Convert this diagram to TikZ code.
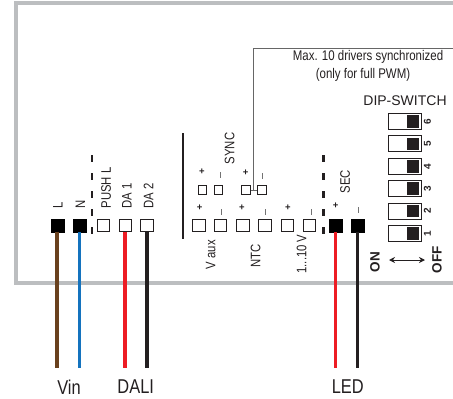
\documentclass[tikz,border=0pt]{standalone}
\usepackage{fontspec}
\setmainfont{Liberation Sans}
\newfontfamily\narrowfont[FakeStretch=0.82]{Liberation Sans}
\usepackage{tikz}
\usetikzlibrary{arrows.meta, positioning}

\definecolor{casegray}{RGB}{188,190,192}
\definecolor{wirebrown}{RGB}{105,65,30}
\definecolor{wireblue}{RGB}{20,115,190}
\definecolor{wirered}{RGB}{237,28,36}
\definecolor{wireblack}{RGB}{35,31,32}

\tikzset{
    blackpin/.style={rectangle, draw=black, fill=black, inner sep=0pt, minimum size=12.5pt},
    openpin/.style={rectangle, draw=wireblack, line width=0.9pt, fill=white, inner sep=0pt, minimum size=12.5pt},
    smallpin/.style={rectangle, draw=wireblack, line width=0.8pt, fill=white, inner sep=0pt, minimum size=8.5pt},
    wire/.style={line width=3.8pt},
    vlabel/.style={rotate=90, anchor=west, inner sep=0pt, font=\narrowfont\fontsize{13.8}{13.8}\selectfont, text=wireblack},
    clabel/.style={rotate=90, inner sep=0pt, font=\narrowfont\fontsize{13.8}{13.8}\selectfont, text=wireblack},
    hlabel/.style={inner sep=0pt, font=\narrowfont\fontsize{14}{14}\selectfont, text=wireblack},
    sign/.style={inner sep=0pt, font=\fontsize{9.5}{9.5}\selectfont\bfseries, text=wireblack},
    minus/.style={inner sep=0pt, rectangle, fill=black!55, minimum width=0.8pt, minimum height=6.5pt},
    dipbox/.style={rectangle, draw=wireblack, line width=0.9pt, fill=white, inner sep=0pt, minimum width=33pt, minimum height=16pt},
    diphandle/.style={rectangle, fill=wireblack, inner sep=0pt, minimum width=12pt, minimum height=12.5pt},
    dipnum/.style={rotate=90, inner sep=0pt, font=\fontsize{10}{10}\selectfont\bfseries, text=wireblack},
    breakline/.style={line width=2.8pt, wireblack, dash pattern=on 6.5pt off 11.5pt},
    boldlabel/.style={rotate=90, inner sep=0pt, font=\fontsize{13.5}{13.5}\selectfont\bfseries, text=wireblack},
    bottomlabel/.style={inner sep=0pt, font=\narrowfont\fontsize{20}{20}\selectfont, text=wireblack}
}

\begin{document}
\begin{tikzpicture}[x=1pt, y=-1pt]
    \useasboundingbox (0,0) rectangle (453,399);

    % Housing outline
    \draw[casegray, line width=4pt] (453,3) -- (16,3) -- (16,283) -- (453,283);

    % Main terminals
    \foreach \name/\x in {pl/103.5, daa/125.5, dab/147, va/199, vb/220.5, na/243, nb/265, ca/287.5, cb/309.5} {
        \node[openpin] (\name) at (\x, 225.5) {};
    }
    \foreach \name/\x in {ln/57.5, nn/79.5, sp/335.5, sm/357.5} {
        \node[blackpin] (\name) at (\x, 225.5) {};
    }

    % Wires and their free ends
    \foreach \name/\x/\col in {ln/57/wirebrown, nn/79.5/wireblue, daa/125/wirered, dab/147/wireblack, sp/335.5/wirered, sm/357.5/wireblack} {
        \coordinate (end\name) at (\x, 367.5);
        \draw[wire, \col] (\name.south -| end\name) -- (end\name);
    }

    % Sync terminals
    \foreach \name/\x in {sa/202.5, sb/218.5, sc/246, sd/262} {
        \node[smallpin] (\name) at (\x, 190) {};
    }
    \coordinate (syncup) at (253.7, 190);
    \coordinate (synccorner) at (253.7, 48);
    \coordinate (syncend) at (453, 48);
    \draw[black!60, line width=0.8pt] (sc) -- (sd);
    \draw[black!60, line width=0.8pt] (syncup) -- (synccorner) -- (syncend);

    % Separators
    \draw[wireblack, line width=2.4pt] (182.7,133) -- (182.7,239);
    \draw[breakline] (92,155) -- (92,233.5);
    \draw[breakline] (323.7,155) -- (323.7,233.5);

    % Terminal labels
    \node[vlabel] (ll) at (58,208.5) {L};
    \node[vlabel] (nl) at (80.5,208.5) {N};
    \node[vlabel] (pushl) at (106,208.5) {PUSH L};
    \node[vlabel] (da1l) at (127,208.5) {DA 1};
    \node[vlabel] (da2l) at (148.5,208.5) {DA 2};
    \node[clabel] (syncl) at (229.7,148.5) {SYNC};
    \node[clabel] (secl) at (345,181.5) {SEC};
    \node[clabel] (vauxl) at (210.7,254.7) {V aux};
    \node[clabel] (ntcl) at (255.7,256) {NTC};
    \node[clabel] (cvl) at (301.7,254) {1...10 V};

    % Polarity signs
    \foreach \name/\x/\y in {p1/202/172, p2/245.7/172.5, p3/199.7/208, p4/242/208, p5/288/208, p6/335.7/206} {
        \node[sign] (\name) at (\x,\y) {+};
    }
    \foreach \name/\x/\y in {m1/220/175, m2/262.7/176, m3/221.7/212, m4/265/212, m5/311/212, m6/358/210} {
        \node[minus] (\name) at (\x,\y) {};
    }

    % DIP switch
    \node[hlabel, font=\fontsize{14}{14}\selectfont] (diptitle) at (405,101) {DIP-SWITCH};
    \foreach \i in {1,...,6} {
        \node[dipbox] (dip\i) at (405, {233.5-(\i-1)*22.4}) {};
        \node[diphandle, anchor=east] (hand\i) at ([xshift=-2.5pt]dip\i.east) {};
        \node[dipnum] (num\i) at (427.5, {233.5-(\i-1)*22.4}) {\i};
    }
    \node[boldlabel] (onl) at (375,262) {ON};
    \node[boldlabel] (offl) at (437,260) {OFF};
    \coordinate (arrowl) at (389,260);
    \coordinate (arrowr) at (425,260);
    \draw[{Stealth[length=6pt,width=6pt]}-{Stealth[length=6pt,width=6pt]}, line width=1pt, wireblack] (arrowl) -- (arrowr);

    % Notes
    \node[hlabel] (maxl) at (368,57) {Max. 10 drivers synchronized};
    \node[hlabel] (onlyl) at (363,75) {(only for full PWM)};
    \node[bottomlabel] (vinl) at (69,387) {Vin};
    \node[bottomlabel] (dalil) at (135.7,387) {DALI};
    \node[bottomlabel] (ledl) at (347.7,387) {LED};
\end{tikzpicture}
\end{document}
